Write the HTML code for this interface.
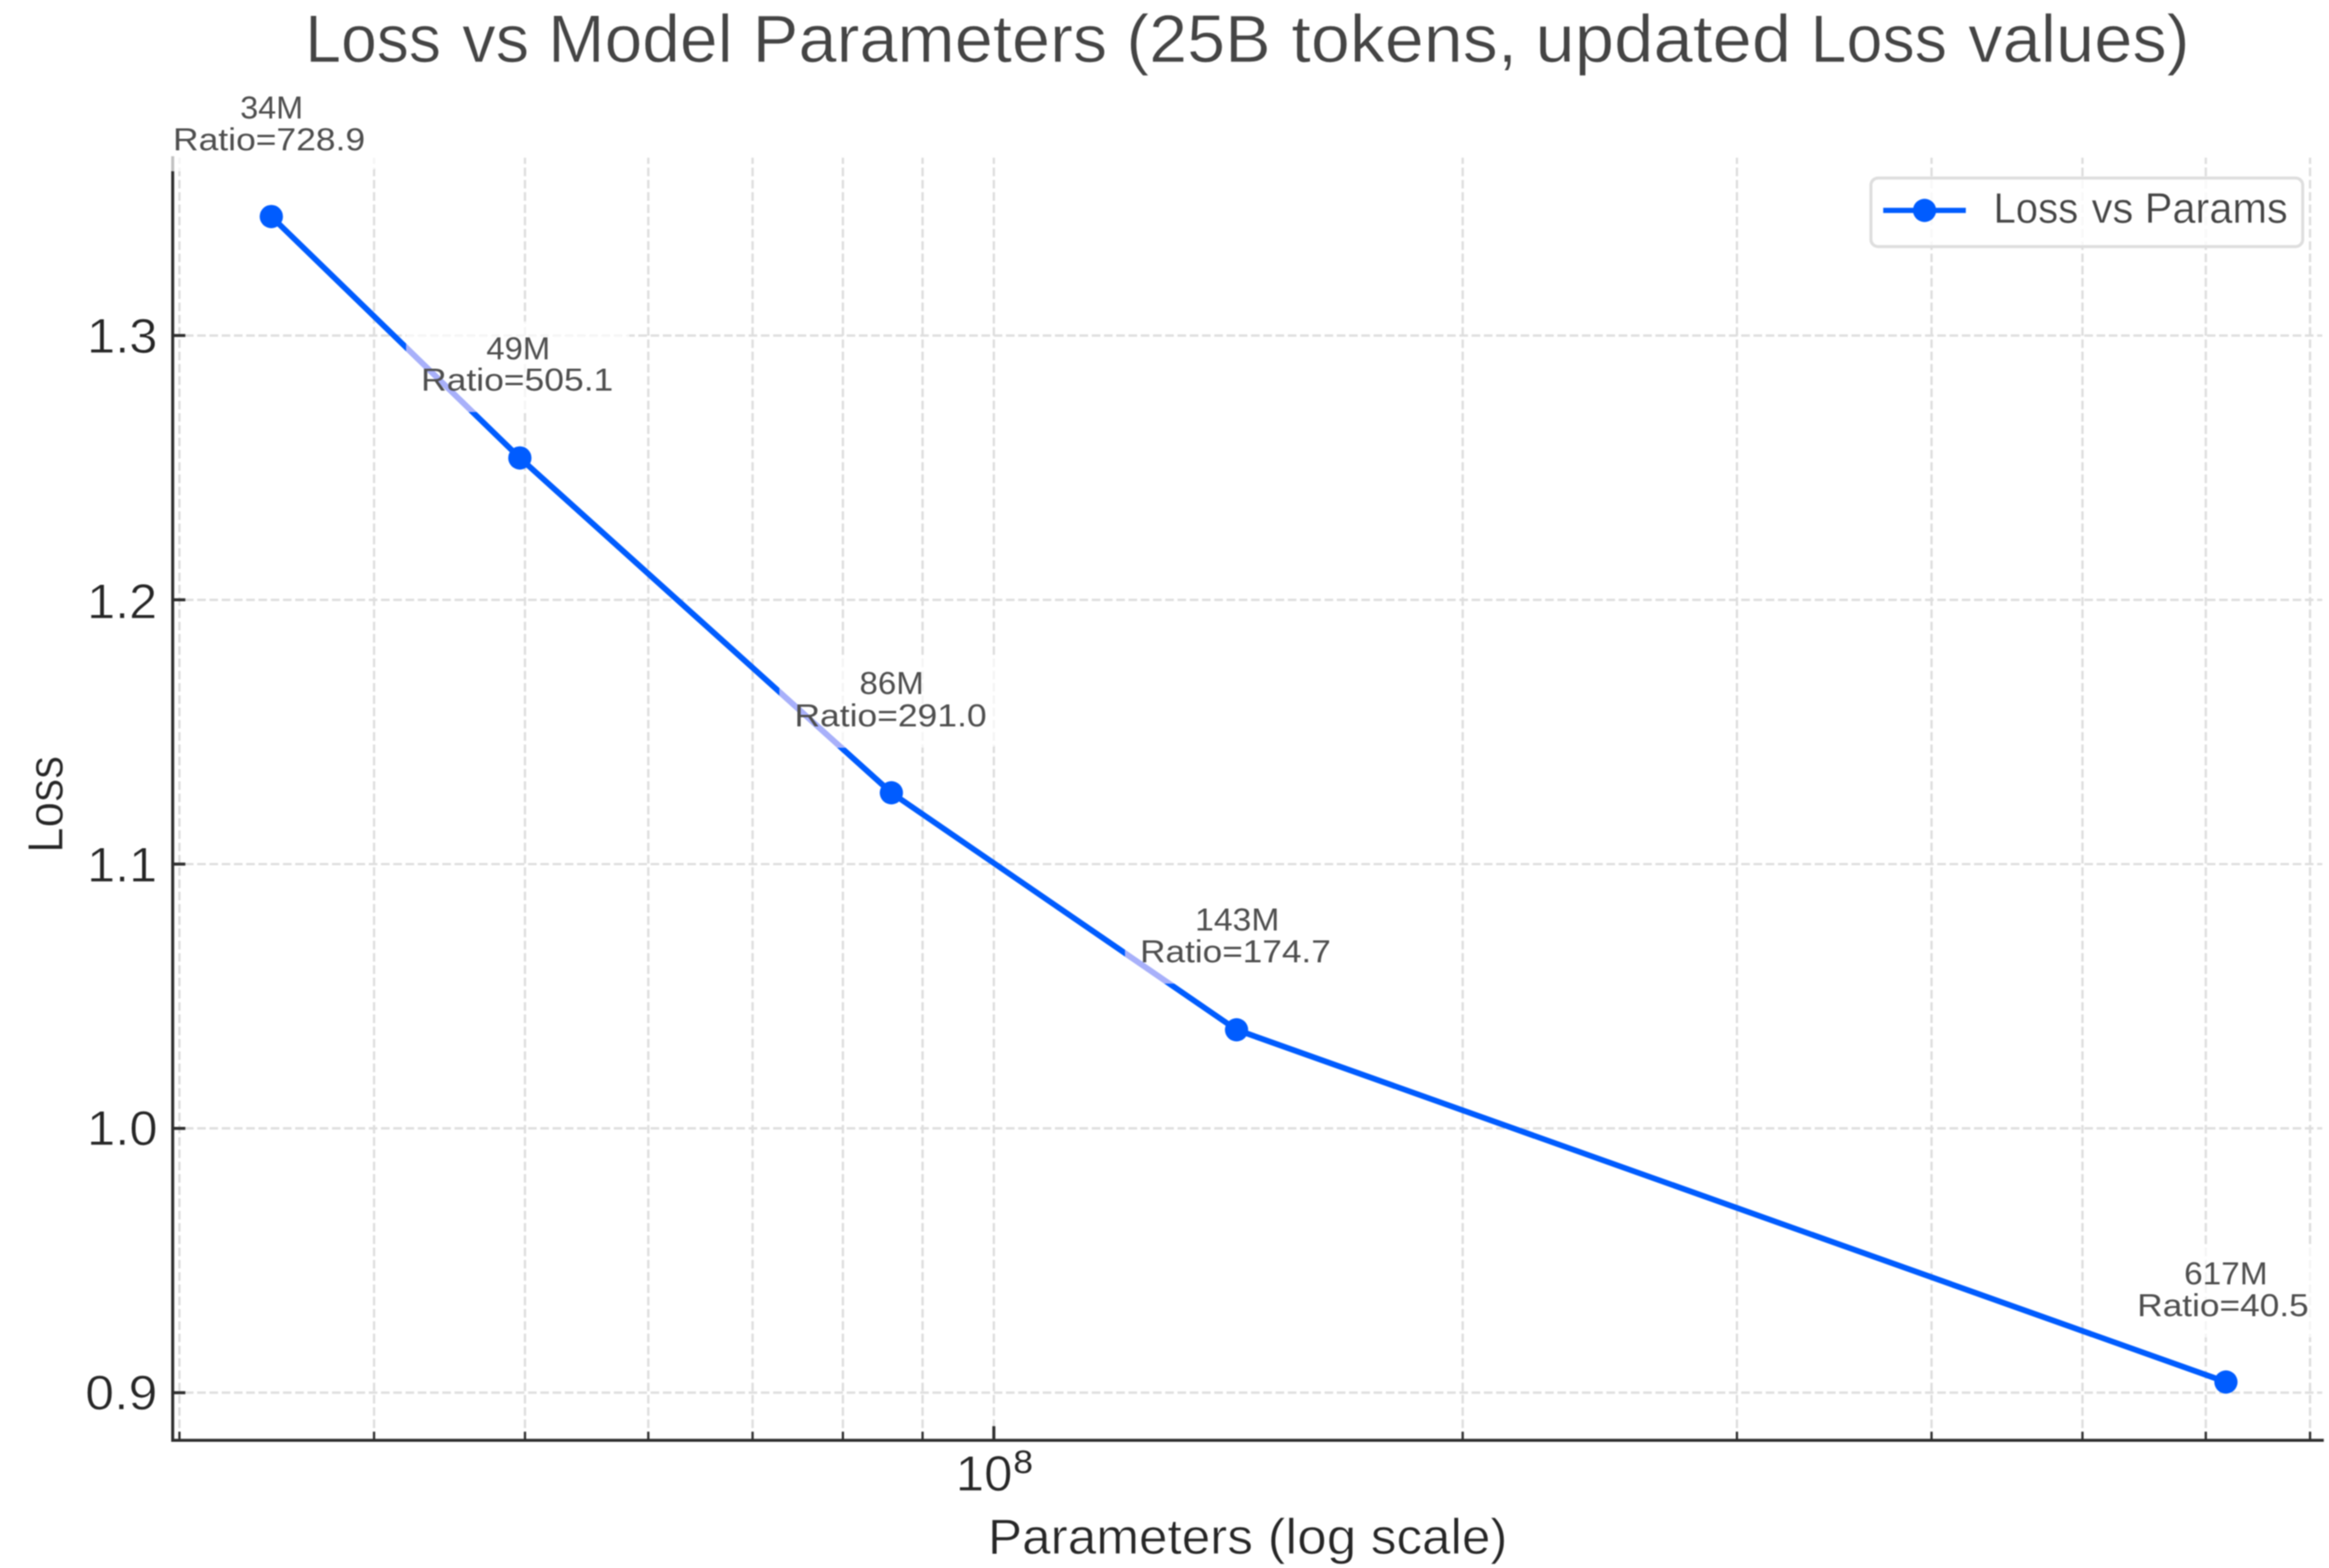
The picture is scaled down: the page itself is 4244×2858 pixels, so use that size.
<!DOCTYPE html><html><head><meta charset="utf-8"><style>html,body{margin:0;padding:0;background:#fff;width:4244px;height:2858px;overflow:hidden}svg{display:block;filter:blur(1px)}text{font-family:"Liberation Sans",sans-serif;font-kerning:none;font-variant-ligatures:none;stroke:#fff}</style></head><body>
<svg width="4244" height="2858" viewBox="0 0 4244 2858">
<rect width="4244" height="2858" fill="#ffffff"/>
<path d="M327.02 2625.30V287.50M681.61 2625.30V287.50M956.65 2625.30V287.50M1181.37 2625.30V287.50M1371.37 2625.30V287.50M1535.96 2625.30V287.50M1681.14 2625.30V287.50M2665.35 2625.30V287.50M3165.12 2625.30V287.50M3519.71 2625.30V287.50M3794.75 2625.30V287.50M4019.47 2625.30V287.50M4209.47 2625.30V287.50M1811.00 2625.30V287.50" stroke="#dedede" stroke-width="4.2" stroke-dasharray="15.65 6.72" fill="none"/>
<path d="M314.70 611.60H4231.70M314.70 1093.30H4231.70M314.70 1575.00H4231.70M314.70 2056.70H4231.70M314.70 2538.40H4231.70" stroke="#dedede" stroke-width="4.2" stroke-dasharray="15.62 6.71" fill="none"/>
<path d="M494.4 394.7 L947.3 834.7 L1624.3 1445.0 L2253.3 1877.0 L4056.2 2519.0" stroke="#005cff" stroke-width="10.5" fill="none" stroke-linejoin="round" stroke-linecap="butt"/>
<circle cx="494.4" cy="394.7" r="21.2" fill="#005cff"/>
<circle cx="947.3" cy="834.7" r="21.2" fill="#005cff"/>
<circle cx="1624.3" cy="1445.0" r="21.2" fill="#005cff"/>
<circle cx="2253.3" cy="1877.0" r="21.2" fill="#005cff"/>
<circle cx="4056.2" cy="2519.0" r="21.2" fill="#005cff"/>
<path d="M314.7 284.75V2628.05M311.95 2625.3H4234.45" stroke="#2f2f2f" stroke-width="5.5" fill="none"/>
<path d="M314.7 611.60H337.7M314.7 1093.30H337.7M314.7 1575.00H337.7M314.7 2056.70H337.7M314.7 2538.40H337.7M1811.0 2625.3V2599.5" stroke="#2f2f2f" stroke-width="5.5" fill="none"/>
<path d="M327.02 2625.3V2609.6000000000004M681.61 2625.3V2609.6000000000004M956.65 2625.3V2609.6000000000004M1181.37 2625.3V2609.6000000000004M1371.37 2625.3V2609.6000000000004M1535.96 2625.3V2609.6000000000004M1681.14 2625.3V2609.6000000000004M2665.35 2625.3V2609.6000000000004M3165.12 2625.3V2609.6000000000004M3519.71 2625.3V2609.6000000000004M3794.75 2625.3V2609.6000000000004M4019.47 2625.3V2609.6000000000004M4209.47 2625.3V2609.6000000000004" stroke="#2f2f2f" stroke-width="4.1" fill="none"/>
<rect x="288.1" y="146.8" width="406.8" height="165.5" rx="27" fill="#ffffff" fill-opacity="0.7"/>
<rect x="740.1" y="585.7" width="406.8" height="165.1" rx="27" fill="#ffffff" fill-opacity="0.7"/>
<rect x="1420.5" y="1196.2" width="407.4" height="166.6" rx="27" fill="#ffffff" fill-opacity="0.7"/>
<rect x="2050.2" y="1626.9" width="404.2" height="165.6" rx="27" fill="#ffffff" fill-opacity="0.7"/>
<rect x="3867.3" y="2272.1" width="369.5" height="165.7" rx="27" fill="#ffffff" fill-opacity="0.7"/>
<defs><clipPath id="bb"><rect x="288.1" y="146.8" width="406.8" height="165.5" rx="27"/><rect x="740.1" y="585.7" width="406.8" height="165.1" rx="27"/><rect x="1420.5" y="1196.2" width="407.4" height="166.6" rx="27"/><rect x="2050.2" y="1626.9" width="404.2" height="165.6" rx="27"/><rect x="3867.3" y="2272.1" width="369.5" height="165.7" rx="27"/></clipPath></defs>
<path d="M494.4 394.7 L947.3 834.7 L1624.3 1445.0 L2253.3 1877.0 L4056.2 2519.0" stroke="#a8b0fa" stroke-width="10.5" fill="none" clip-path="url(#bb)"/>
<text transform="translate(437.76,215.80) scale(1.0111,1)" font-size="58.14" fill="#4e4e4e" stroke-width="0.00">34M</text>
<text transform="translate(315.30,273.70) scale(1.1110,1)" font-size="58.14" fill="#4e4e4e" stroke-width="0.00">Ratio=728.9</text>
<text transform="translate(886.33,654.70) scale(1.0271,1)" font-size="58.14" fill="#4e4e4e" stroke-width="0.00">49M</text>
<text transform="translate(767.30,712.20) scale(1.1113,1)" font-size="58.14" fill="#4e4e4e" stroke-width="0.00">Ratio=505.1</text>
<text transform="translate(1566.29,1265.20) scale(1.0349,1)" font-size="58.14" fill="#4e4e4e" stroke-width="0.00">86M</text>
<text transform="translate(1447.70,1324.20) scale(1.1112,1)" font-size="58.14" fill="#4e4e4e" stroke-width="0.00">Ratio=291.0</text>
<text transform="translate(2177.83,1695.90) scale(1.0555,1)" font-size="58.14" fill="#4e4e4e" stroke-width="0.00">143M</text>
<text transform="translate(2077.44,1753.90) scale(1.1032,1)" font-size="58.14" fill="#4e4e4e" stroke-width="0.00">Ratio=174.7</text>
<text transform="translate(3980.01,2341.10) scale(1.0456,1)" font-size="58.14" fill="#4e4e4e" stroke-width="0.00">617M</text>
<text transform="translate(3894.53,2399.20) scale(1.1047,1)" font-size="58.14" fill="#4e4e4e" stroke-width="0.00">Ratio=40.5</text>
<rect x="288.1" y="146.8" width="406.8" height="165.5" rx="27" fill="#ffffff" fill-opacity="0.0"/>
<text transform="translate(158.62,642.65) scale(1.0357,1)" font-size="89.10" fill="#262626" stroke-width="1.10">1.3</text>
<text transform="translate(158.65,1126.55) scale(1.0311,1)" font-size="89.10" fill="#262626" stroke-width="1.10">1.2</text>
<text transform="translate(158.66,1607.05) scale(1.0299,1)" font-size="89.10" fill="#262626" stroke-width="1.10">1.1</text>
<text transform="translate(158.61,2087.05) scale(1.0370,1)" font-size="89.10" fill="#262626" stroke-width="1.10">1.0</text>
<text transform="translate(155.25,2568.65) scale(1.0623,1)" font-size="89.10" fill="#262626" stroke-width="1.10">0.9</text>
<text transform="translate(1741.46,2717.45) scale(1.0148,1)" font-size="91.72" fill="#262626" stroke-width="1.10">10</text>
<text transform="translate(1846.48,2684.82) scale(1.0853,1)" font-size="59.39" fill="#262626" stroke-width="0.04">8</text>
<text transform="translate(1800.28,2831.75) scale(1.0188,1)" font-size="91.72" fill="#262626" stroke-width="1.10">Parameters</text>
<text transform="translate(2310.05,2831.75) scale(1.0556,1)" font-size="91.72" fill="#262626" stroke-width="1.10">(log</text>
<text transform="translate(2498.05,2831.75) scale(1.0169,1)" font-size="91.72" fill="#262626" stroke-width="1.10">scale)</text>
<text transform="translate(113.95,1554.83) rotate(-90) scale(0.9142,1)" font-size="91.72" fill="#262626" stroke-width="1.10">Loss</text>
<text transform="translate(556.34,113.05) scale(0.9545,1)" font-size="122.68" fill="#444444" stroke-width="1.10">Loss</text>
<text transform="translate(842.33,113.05) scale(0.9939,1)" font-size="122.68" fill="#444444" stroke-width="1.10">vs</text>
<text transform="translate(998.82,113.05) scale(1.0068,1)" font-size="122.68" fill="#444444" stroke-width="1.10">Model</text>
<text transform="translate(1371.60,113.05) scale(1.0188,1)" font-size="122.68" fill="#444444" stroke-width="1.10">Parameters</text>
<text transform="translate(2052.53,113.05) scale(1.0145,1)" font-size="122.68" fill="#444444" stroke-width="1.10">(25B</text>
<text transform="translate(2353.32,113.05) scale(1.0401,1)" font-size="122.68" fill="#444444" stroke-width="1.10">tokens,</text>
<text transform="translate(2797.87,113.05) scale(1.0513,1)" font-size="122.68" fill="#444444" stroke-width="1.10">updated</text>
<text transform="translate(3299.19,113.05) scale(0.9598,1)" font-size="122.68" fill="#444444" stroke-width="1.10">Loss</text>
<text transform="translate(3586.62,113.05) scale(1.0200,1)" font-size="122.68" fill="#444444" stroke-width="1.10">values)</text>
<rect x="3409.3" y="324.5" width="786.8" height="124.9" rx="13" fill="#ffffff" fill-opacity="0.8" stroke="#dedede" stroke-width="5.5"/>
<path d="M3431.7 383.5H3582.2" stroke="#005cff" stroke-width="9.5"/>
<circle cx="3507.0" cy="383.5" r="21.2" fill="#005cff"/>
<text transform="translate(3632.65,406.35) scale(0.9395,1)" font-size="77.77" fill="#444444" stroke-width="0.70">Loss</text>
<text transform="translate(3811.49,406.35) scale(0.9760,1)" font-size="77.77" fill="#444444" stroke-width="0.70">vs</text>
<text transform="translate(3908.34,406.35) scale(0.9724,1)" font-size="77.77" fill="#444444" stroke-width="0.70">Params</text>
</svg></body></html>
